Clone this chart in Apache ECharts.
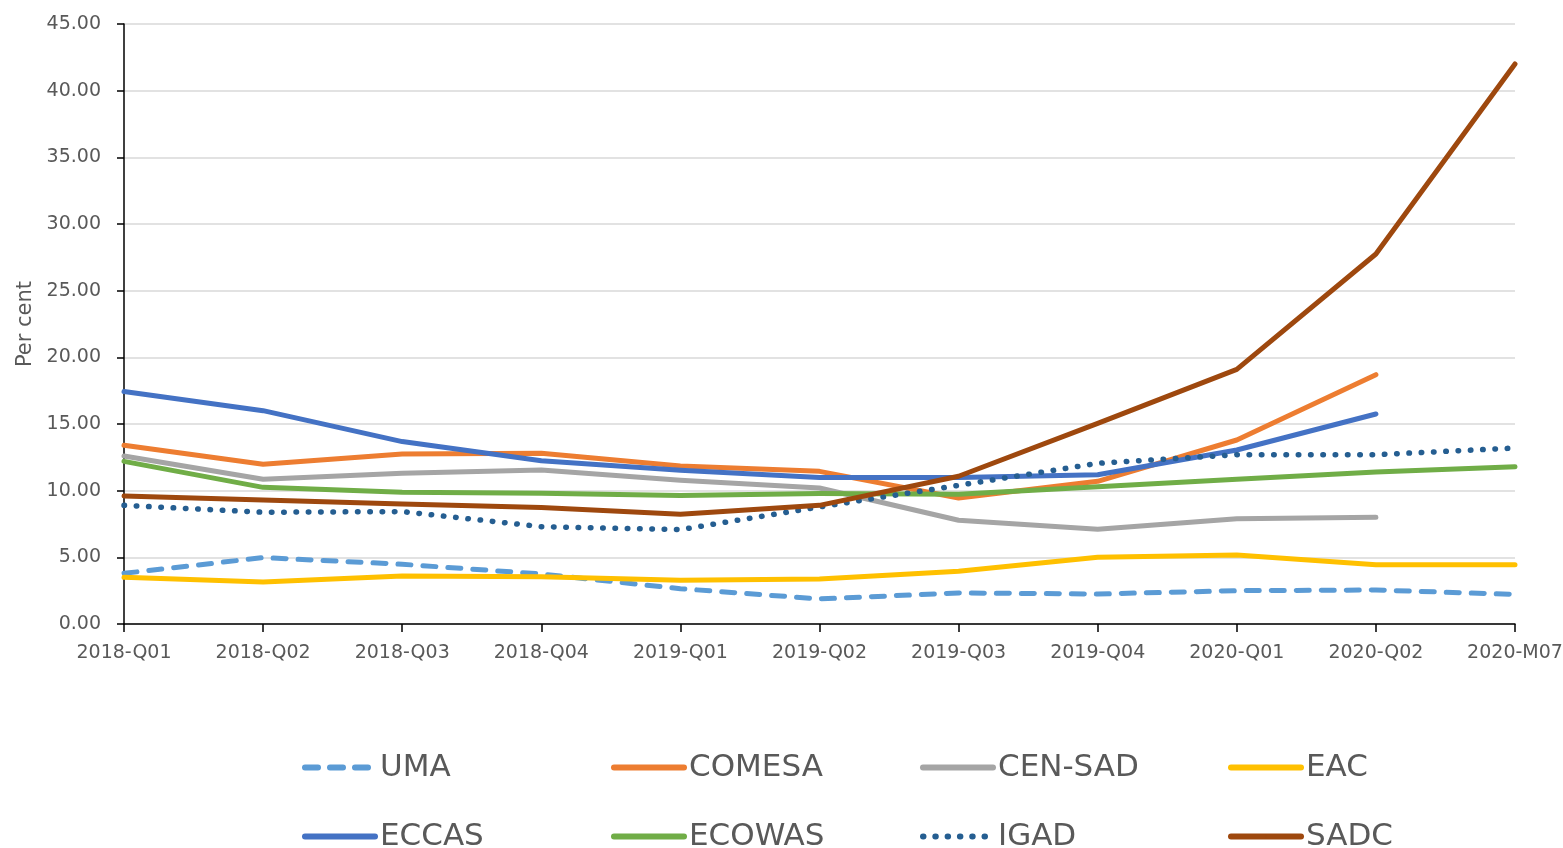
<!DOCTYPE html>
<html>
<head>
<meta charset="utf-8">
<script src="https://cdn.jsdelivr.net/npm/echarts@6/dist/echarts.min.js"></script>
<style>
  html, body { margin: 0; padding: 0; background: #fff; }
  #main { width: 1563px; height: 848px; }
</style>
</head>
<body>
<div id="main"></div>
<script>
// periods
var categories = ['2018-Q01', '2018-Q02', '2018-Q03', '2018-Q04', '2019-Q01', '2019-Q02',
                  '2019-Q03', '2019-Q04', '2020-Q01', '2020-Q02', '2020-M07'];

// per cent
var uma    = [3.8, 4.98, 4.48, 3.75, 2.65, 1.88, 2.33, 2.25, 2.5, 2.55, 2.22];
var comesa = [13.4, 11.98, 12.75, 12.8, 11.85, 11.45, 9.45, 10.7, 13.8, 18.7, null];
var censad = [12.6, 10.85, 11.3, 11.55, 10.78, 10.2, 7.78, 7.1, 7.9, 8.0, null];
var eac    = [3.5, 3.15, 3.6, 3.55, 3.28, 3.38, 3.95, 5.0, 5.17, 4.45, 4.45];
var eccas  = [17.43, 16.0, 13.68, 12.25, 11.53, 10.98, 10.98, 11.2, 13.05, 15.75, null];
var ecowas = [12.2, 10.25, 9.88, 9.8, 9.63, 9.78, 9.73, 10.3, 10.85, 11.4, 11.8];
var igad   = [8.9, 8.38, 8.43, 7.3, 7.08, 8.78, 10.4, 12.05, 12.7, 12.7, 13.2];
var sadc   = [9.6, 9.3, 9.0, 8.73, 8.23, 8.9, 11.08, 15.05, 19.1, 27.75, 42.0];

var yTicks = [0, 5, 10, 15, 20, 25, 30, 35, 40, 45];

var font = 'DejaVu Sans';
var grey = '#595959';

var lines = [
  { name: 'UMA',     data: uma,    color: '#5b9bd5', type: [13, 12], w: 5 },
  { name: 'COMESA',  data: comesa, color: '#ed7d31', type: 'solid', w: 5 },
  { name: 'CEN-SAD', data: censad, color: '#a5a5a5', type: 'solid', w: 5 },
  { name: 'EAC',     data: eac,    color: '#ffc000', type: 'solid', w: 5 },
  { name: 'ECCAS',   data: eccas,  color: '#4472c4', type: 'solid', w: 5 },
  { name: 'ECOWAS',  data: ecowas, color: '#70ad47', type: 'solid', w: 5 },
  { name: 'IGAD',    data: igad,   color: '#255e91', type: [0.5, 11.8], w: 5.5 },
  { name: 'SADC',    data: sadc,   color: '#9e480e', type: 'solid', w: 5 }
];

// legend: 4 columns x 2 rows
var colLeft = [302, 611, 920, 1228];
var rowTop = [752, 821];
var legends = lines.map(function (s, i) {
  return {
    data: [s.name],
    left: colLeft[i % 4],
    top: rowTop[Math.floor(i / 4)],
    padding: 0,
    itemWidth: 70,
    itemHeight: 2,   // keeps the legend's marker dot hidden under the line
    lineStyle: { width: 6 },
    textStyle: { fontSize: 31, color: grey, fontFamily: font }
  };
});

var myChart = echarts.init(document.getElementById('main'));
myChart.setOption({
  animation: false,
  backgroundColor: '#fff',
  grid: { left: 124, right: 48, top: 24, bottom: 224, outerBoundsMode: 'none', containLabel: false },
  legend: legends,
  xAxis: {
    type: 'category',
    data: categories,
    boundaryGap: false,
    axisLine: { lineStyle: { color: '#000', width: 1.5 } },
    axisTick: { show: true, length: 8, lineStyle: { color: '#000', width: 1.5 } },
    axisLabel: { margin: 20, fontSize: 19, color: grey, fontFamily: font, showMaxLabel: true }
  },
  yAxis: {
    type: 'value',
    min: yTicks[0],
    max: yTicks[yTicks.length - 1],
    interval: 5,
    name: 'Per cent',
    nameLocation: 'middle',
    nameGap: 87,
    nameTextStyle: { fontSize: 21, color: grey, fontFamily: font },
    axisLine: { show: true, lineStyle: { color: '#000', width: 1.5 } },
    axisTick: { show: true, length: 7, lineStyle: { color: '#000', width: 1.5 } },
    splitLine: { lineStyle: { color: '#d9d9d9', width: 1.5 } },
    axisLabel: {
      margin: 23, fontSize: 19, color: grey, fontFamily: font,
      formatter: function (v) { return v.toFixed(2); }
    }
  },
  series: lines.map(function (s) {
    return {
      name: s.name,
      type: 'line',
      data: s.data,
      symbol: 'none',
      color: s.color,
      connectNulls: false,
      lineStyle: { width: s.w, color: s.color, type: s.type, cap: 'round', join: 'round' }
    };
  })
});
</script>
</body>
</html>
